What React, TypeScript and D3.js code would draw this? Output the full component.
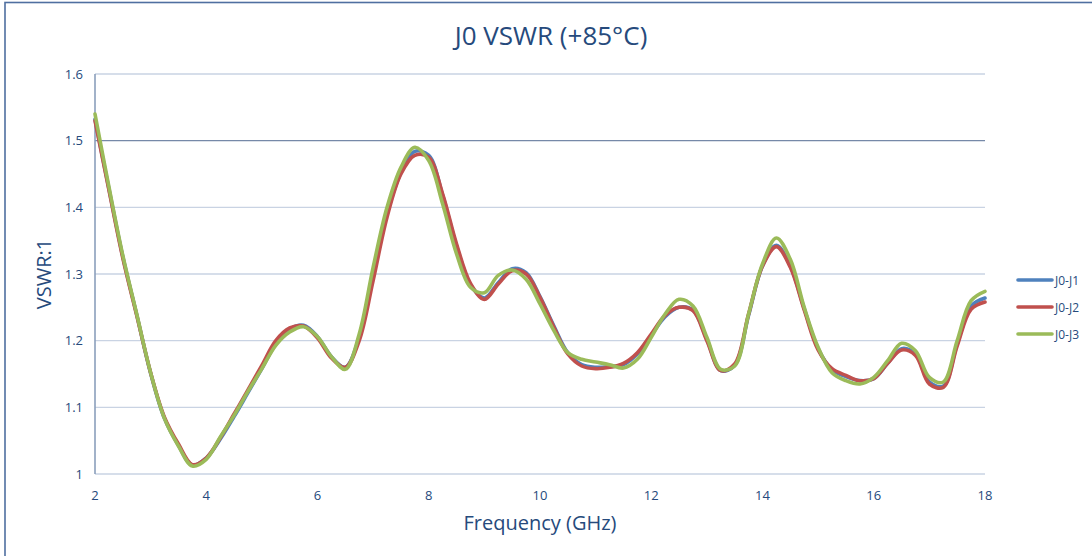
import React from "react";
import * as d3 from "d3";

const freqs = [
  2.0, 2.25, 2.5, 2.75, 3.0, 3.25, 3.5, 3.75, 4.0, 4.25, 4.5, 4.75, 5.0, 5.25, 5.5, 5.75,
  6.0, 6.25, 6.5, 6.75, 7.0, 7.25, 7.5, 7.75, 8.0, 8.25, 8.5, 8.75, 9.0, 9.25, 9.5, 9.75,
  10.0, 10.25, 10.5, 10.75, 11.0, 11.25, 11.5, 11.75, 12.0, 12.25, 12.5, 12.75, 13.0, 13.25, 13.5, 13.75,
  14.0, 14.25, 14.5, 14.75, 15.0, 15.25, 15.5, 15.75, 16.0, 16.25, 16.5, 16.75, 17.0, 17.25, 17.5, 17.75,
  18.0,
];

const j0j1 = [
  1.532, 1.428, 1.326, 1.239, 1.151, 1.083, 1.043, 1.013, 1.024, 1.052, 1.086, 1.122, 1.158, 1.195, 1.217, 1.223,
  1.206, 1.176, 1.160, 1.205, 1.298, 1.390, 1.452, 1.484, 1.478, 1.418, 1.342, 1.284, 1.264, 1.287, 1.308, 1.302,
  1.266, 1.222, 1.182, 1.164, 1.160, 1.161, 1.164, 1.180, 1.208, 1.236, 1.250, 1.246, 1.202, 1.155, 1.163, 1.238,
  1.312, 1.343, 1.312, 1.248, 1.188, 1.156, 1.146, 1.140, 1.143, 1.166, 1.188, 1.180, 1.138, 1.132, 1.195, 1.252,
  1.264,
];

const j0j2 = [
  1.530, 1.426, 1.324, 1.238, 1.152, 1.085, 1.045, 1.014, 1.024, 1.054, 1.090, 1.126, 1.163, 1.200, 1.219, 1.222,
  1.204, 1.174, 1.160, 1.200, 1.290, 1.385, 1.450, 1.478, 1.475, 1.420, 1.345, 1.286, 1.262, 1.285, 1.305, 1.300,
  1.265, 1.220, 1.180, 1.162, 1.158, 1.160, 1.166, 1.182, 1.210, 1.238, 1.250, 1.245, 1.200, 1.155, 1.165, 1.240,
  1.312, 1.341, 1.310, 1.246, 1.186, 1.158, 1.148, 1.140, 1.143, 1.166, 1.186, 1.178, 1.135, 1.130, 1.192, 1.247,
  1.258,
];

const j0j3 = [
  1.540, 1.431, 1.328, 1.240, 1.152, 1.083, 1.042, 1.012, 1.022, 1.055, 1.088, 1.124, 1.158, 1.193, 1.213, 1.221,
  1.206, 1.176, 1.157, 1.210, 1.310, 1.400, 1.460, 1.490, 1.470, 1.405, 1.330, 1.280, 1.272, 1.298, 1.306, 1.292,
  1.255, 1.215, 1.182, 1.172, 1.168, 1.164, 1.159, 1.172, 1.205, 1.240, 1.262, 1.252, 1.205, 1.157, 1.162, 1.240,
  1.315, 1.354, 1.322, 1.250, 1.190, 1.152, 1.140, 1.135, 1.145, 1.170, 1.196, 1.185, 1.145, 1.138, 1.200, 1.260,
  1.274,
];

const seriesNames = ["J0-J1", "J0-J2", "J0-J3"];
const seriesColors = ["#4f81bd", "#c0504d", "#9bbb59"];
const seriesValues = [j0j1, j0j2, j0j3];

const xTicks = [2, 4, 6, 8, 10, 12, 14, 16, 18];
const yTicks = [1, 1.1, 1.2, 1.3, 1.4, 1.5, 1.6];

const W = 1092;
const H = 556;
const left = 95;
const right = 985;
const top = 74;
const bottom = 474;

const font = "'Liberation Sans Narrow', 'Arial Narrow', 'Open Sans', sans-serif";
const textColor = "#264a7c";

export default function App() {
  const x = d3.scaleLinear().domain([2, 18]).range([left, right]);
  const y = d3.scaleLinear().domain([1, 1.6]).range([bottom, top]);
  const line = d3
    .line<number>()
    .x((_, i) => x(freqs[i]))
    .y((d) => y(d))
    .curve(d3.curveCatmullRom.alpha(0.5));

  return (
    <svg
      width={W}
      height={H}
      style={{ position: "absolute", left: 0, top: 0, background: "#fff" }}
    >
      <rect x={0} y={0} width={W} height={H} fill="#fff" />
      <rect x={5} y={2.5} width={W + 20} height={H + 20} fill="none" stroke="#4f6fa0" strokeWidth={1.6} />
      <text
        x={551}
        y={45}
        textAnchor="middle"
        fontFamily={font}
        fontSize={26}
        fill={textColor}
      >
        J0 VSWR (+85°C)
      </text>

      {yTicks.map((t) => (
        <line
          key={"g" + t}
          x1={left}
          x2={right}
          y1={y(t)}
          y2={y(t)}
          stroke={Math.abs(t - 1.5) < 1e-6 ? "#7689a8" : "#c9d3e3"}
          strokeWidth={1.4}
        />
      ))}
      <line x1={left} x2={left} y1={top} y2={bottom} stroke="#8b9fbc" strokeWidth={1.6} />

      {yTicks.map((t) => (
        <text
          key={"yl" + t}
          x={83}
          y={y(t) + 4.5}
          textAnchor="end"
          fontFamily={font}
          fontSize={13}
          fill={textColor}
        >
          {d3.format("~g")(t)}
        </text>
      ))}
      {xTicks.map((t) => (
        <text
          key={"xl" + t}
          x={x(t)}
          y={500}
          textAnchor="middle"
          fontFamily={font}
          fontSize={13}
          fill={textColor}
        >
          {t}
        </text>
      ))}

      <text
        x={540}
        y={530}
        textAnchor="middle"
        fontFamily={font}
        fontSize={20}
        fill={textColor}
      >
        Frequency (GHz)
      </text>
      <text
        transform="translate(51,274) rotate(-90)"
        textAnchor="middle"
        fontFamily={font}
        fontSize={20}
        fill={textColor}
      >
        VSWR:1
      </text>

      {seriesValues.map((vals, i) => (
        <path
          key={seriesNames[i]}
          d={line(vals) || ""}
          fill="none"
          stroke={seriesColors[i]}
          strokeWidth={3.6}
          strokeLinejoin="round"
          strokeLinecap="round"
        />
      ))}

      {seriesNames.map((n, i) => (
        <g key={"lg" + n} transform={`translate(0,${280 + i * 27})`}>
          <line x1={1018} x2={1052} y1={0} y2={0} stroke={seriesColors[i]} strokeWidth={3.6} strokeLinecap="round" />
          <text x={1055} y={4.5} fontFamily={font} fontSize={12} fill={textColor}>
            {n}
          </text>
        </g>
      ))}
    </svg>
  );
}
